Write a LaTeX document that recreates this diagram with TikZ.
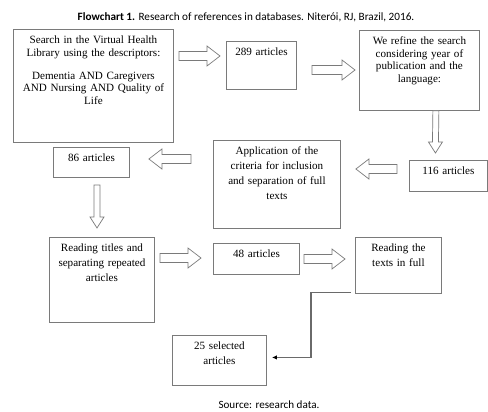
\documentclass[tikz,border=0pt]{standalone}
\usepackage{fontspec}
\setmainfont{Liberation Serif}
\newfontfamily\calibri{Carlito}
\usetikzlibrary{calc,arrows.meta}

\definecolor{framegray}{HTML}{7A7A7A}
\definecolor{linkgray}{HTML}{6A6A6A}

\tikzset{
  box/.style={draw=framegray, line width=0.9pt, anchor=north west, align=center,
    inner xsep=4pt, inner ysep=3pt, text height=11.5pt,
    font=\fontsize{11.1}{14.7}\selectfont},
  tight/.style={font=\fontsize{11.1}{12.4}\selectfont},
  blk/.style={draw=framegray, line width=0.7pt, fill=white},
  rarrow/.style={to path={([yshift=4.5pt]\tikztostart)
    -- ([xshift=-13pt,yshift=4.5pt]\tikztotarget) -- ([xshift=-13pt,yshift=10pt]\tikztotarget)
    -- (\tikztotarget)
    -- ([xshift=-13pt,yshift=-10pt]\tikztotarget) -- ([xshift=-13pt,yshift=-4.5pt]\tikztotarget)
    -- ([yshift=-4.5pt]\tikztostart) -- cycle}},
  larrow/.style={to path={([yshift=4.5pt]\tikztostart)
    -- ([xshift=13pt,yshift=4.5pt]\tikztotarget) -- ([xshift=13pt,yshift=10pt]\tikztotarget)
    -- (\tikztotarget)
    -- ([xshift=13pt,yshift=-10pt]\tikztotarget) -- ([xshift=13pt,yshift=-4.5pt]\tikztotarget)
    -- ([yshift=-4.5pt]\tikztostart) -- cycle}},
  darrow/.style={to path={([xshift=-3pt]\tikztostart)
    -- ([xshift=-3pt,yshift=11pt]\tikztotarget) -- ([xshift=-7pt,yshift=11pt]\tikztotarget)
    -- (\tikztotarget)
    -- ([xshift=7pt,yshift=11pt]\tikztotarget) -- ([xshift=3pt,yshift=11pt]\tikztotarget)
    -- ([xshift=3pt]\tikztostart) -- cycle}},
  link/.style={draw=linkgray, line width=1.1pt, -{Latex[length=5pt,width=4.5pt,black]}}
}

\begin{document}
\begin{tikzpicture}[x=1pt,y=-1pt]
  \useasboundingbox (0,0) rectangle (488,412);
  % title and source
  \node[font=\calibri\fontsize{11.2}{13}\selectfont] (title) at (246,17)
    {\textbf{Flowchart 1.} Research of references in databases. Niterói, RJ, Brazil, 2016.};
  \node[font=\calibri\fontsize{11.1}{13}\selectfont] (source) at (269,405) {Source: research data.};
  % boxes
  \node[box,tight,text width=152pt,text depth=95.5pt] (search) at (13,29)
    {Search in the Virtual Health\\ Library using the descriptors:\\[10.5pt]
     Dementia AND Caregivers\\ AND Nursing AND Quality of\\ Life};
  \node[box,text width=62pt,text depth=30.5pt] (n289) at (226,41) {289 articles};
  \node[box,tight,text width=112pt,text depth=62.5pt] (refine) at (359,30)
    {We refine the search\\ considering year of\\ publication and the\\ language:};
  \node[box,text width=70pt,text depth=13.5pt] (n116) at (409,160) {116 articles};
  \node[box,text width=119pt,text depth=70.5pt] (apply) at (213,140)
    {Application of the\\ criteria for inclusion\\ and separation of full\\ texts};
  \node[box,text width=68pt,text depth=12.5pt] (n86) at (53,147) {86 articles};
  \node[box,text width=97pt,text depth=67.5pt] (titles) at (49,237)
    {Reading titles and\\ separating repeated\\ articles};
  \node[box,text width=78pt,text depth=13.5pt] (n48) at (213,243) {48 articles};
  \node[box,text width=78pt,text depth=38.5pt] (texts) at (355,237) {Reading the\\ texts in full};
  \node[box,text width=86pt,text depth=32.5pt] (sel) at (172,335) {25 selected\\ articles};
  % block arrows
  \draw[blk] ($(search.north east)+(5,27)$) to[rarrow] ($(n289.north west)+(-6,15)$);
  \draw[blk] ($(n289.north east)+(15,29)$) to[rarrow] ($(refine.north west)+(-4,40)$);
  \draw[blk] ($(refine.south east)+(-44,0)$) to[darrow] ($(n116.north)+(-13,-7)$);
  \draw[blk] ($(n116.west)+(-12,-7)$) to[larrow] ($(apply.north east)+(15,29)$);
  \draw[blk] ($(apply.north west)+(-22,19)$) to[larrow] ($(n86.north east)+(19,12)$);
  \draw[blk] ($(n86.south west)+(44,7)$) to[darrow] ($(titles.north west)+(48,-9)$);
  \draw[blk] ($(titles.north east)+(5,21)$) to[rarrow] ($(n48.north west)+(-12,15)$);
  \draw[blk] ($(n48.north east)+(4,16)$) to[rarrow] ($(texts.north west)+(-10,22)$);
  % elbow connector
  \draw[link] ($(texts.south west)+(-4,-1)$) -- ++(-40,0) |- ($(sel.east)+(5,-3)$);
\end{tikzpicture}
\end{document}
